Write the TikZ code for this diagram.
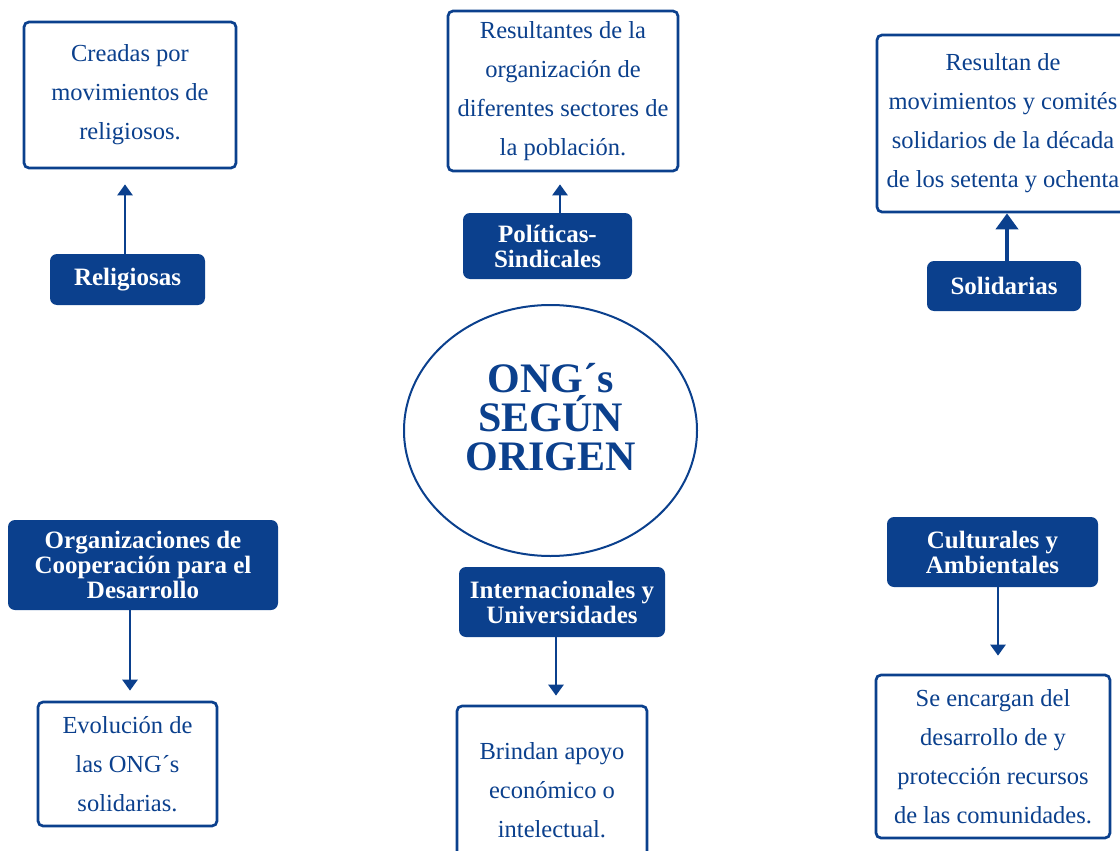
\documentclass[tikz,border=0pt]{standalone}
\usepackage{fontspec}
\setmainfont{Liberation Serif}
\usetikzlibrary{shapes.geometric,arrows.meta}
\definecolor{ongblue}{RGB}{11,64,141}

\begin{document}
\begin{tikzpicture}[
        x=1pt, y=-1pt,
        desc/.style={draw=ongblue, line width=2.7pt, rounded corners=5pt, fill=white,
                     text=ongblue, align=center, inner sep=0pt,
                     font=\fontsize{24.5}{39}\selectfont},
        tipo/.style={fill=ongblue, rounded corners=7pt, text=white, align=center,
                     inner sep=0pt, font=\bfseries\fontsize{25}{25}\selectfont},
        flecha/.style={draw=ongblue, line width=2.6pt, -{Triangle[width=15pt, length=11pt]}},
        ]
    \clip (0,0) rectangle (1120,851);

    \node[ellipse, draw=ongblue, line width=2pt, minimum width=293pt, minimum height=251pt] (centro) at (550.5,430.5) {};
    \node[text=ongblue, align=center, font=\bfseries\fontsize{42}{39}\selectfont] (titulo) at ([yshift=13pt]centro.center) {ONG´s\\SEGÚN\\ORIGEN};

    \node[desc, minimum width=212pt, minimum height=146pt] (creadas) at (130,95) {Creadas por\\movimientos de\\religiosos.};
    \node[tipo, minimum width=155pt, minimum height=51pt] (relig) at (127.5,279.5) {Religiosas};

    \node[desc, minimum width=230pt, minimum height=160pt] (result) at (563,91) {Resultantes de la\\organización de\\diferentes sectores de\\la población.};
    \node[tipo, minimum width=169pt, minimum height=66pt] (polit) at (547.5,246) {Políticas-\\Sindicales};

    \node[desc, minimum width=252pt, minimum height=177pt] (resultan) at (1003,123.5) {Resultan de\\movimientos y comités\\solidarios de la década\\de los setenta y ochenta};
    \node[tipo, minimum width=154pt, minimum height=50pt] (solid) at (1004,286) {Solidarias};

    \node[tipo, minimum width=270pt, minimum height=90pt] (coop) at (143,565) {Organizaciones de\\Cooperación para el\\Desarrollo};
    \node[desc, minimum width=179pt, minimum height=124pt] (evol) at (127.5,764) {Evolución de\\las ONG´s\\solidarias.};

    \node[tipo, minimum width=206pt, minimum height=70pt] (inter) at (562,602) {Internacionales y\\Universidades};
    \node[desc, minimum width=190pt, minimum height=168pt] (brindan) at (552,790) {Brindan apoyo\\económico o\\intelectual.};

    \node[tipo, minimum width=211pt, minimum height=70pt] (cult) at (992.5,552) {Culturales y\\Ambientales};
    \node[desc, minimum width=234pt, minimum height=163pt] (encargan) at (993,756.5) {Se encargan del\\desarrollo de y\\protección recursos\\de las comunidades.};

    \draw[flecha, shorten >=15pt] ([xshift=-2.5pt]relig.north) -- ([xshift=-2.5pt]relig.north |- creadas.south);
    \draw[flecha, shorten >=12pt] ([xshift=12.5pt]polit.north) -- ([xshift=12.5pt]polit.north |- result.south);
    \draw[flecha, line width=4pt, -{Triangle[width=22pt, length=16pt]}] ([xshift=3pt]solid.north) -- ([xshift=3pt]solid.north |- resultan.south);
    \draw[flecha, shorten >=10pt] ([xshift=-13pt]coop.south) -- ([xshift=-13pt]coop.south |- evol.north);
    \draw[flecha, shorten >=9pt] ([xshift=-6pt]inter.south) -- ([xshift=-6pt]inter.south |- brindan.north);
    \draw[flecha, shorten >=18pt] ([xshift=5.5pt]cult.south) -- ([xshift=5.5pt]cult.south |- encargan.north);
\end{tikzpicture}
\end{document}
